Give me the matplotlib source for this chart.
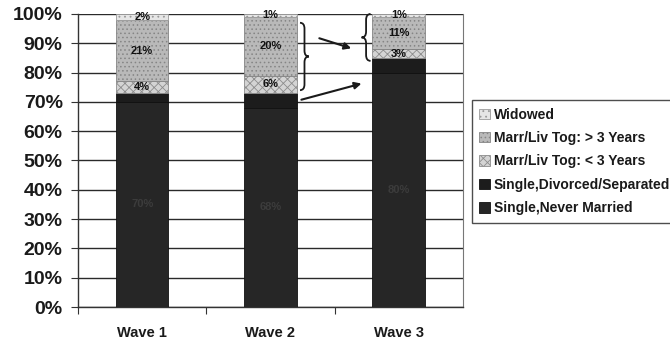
import numpy as np
import matplotlib.pyplot as plt
from matplotlib.path import Path
from matplotlib.patches import PathPatch

plt.rcParams['font.family'] = ['Liberation Sans', 'DejaVu Sans']
plt.rcParams['hatch.linewidth'] = 0.6

waves = ['Wave 1', 'Wave 2', 'Wave 3']
# stacked from the bottom up
series = ['Single,Never Married', 'Single,Divorced/Separated',
          'Marr/Liv Tog: < 3 Years', 'Marr/Liv Tog: > 3 Years', 'Widowed']
never_married = [70, 68, 80]
divorced = [3, 5, 5]
marr_lt3 = [4, 6, 3]
marr_gt3 = [21, 20, 11]
widowed = [2, 1, 1]

values = [never_married, divorced, marr_lt3, marr_gt3, widowed]
faces = ['#262626', '#1c1c1c', '#d4d4d4', '#b9b9b9', '#e6e6e6']
hatches = ['', '', 'xxxx', '....', '...']
edges = ['#111111', '#111111', '#8c8c8c', '#858585', '#9a9a9a']
label_colors = ['#3c3c3c', None, '#111111', '#111111', '#111111']

fig = plt.figure(figsize=(6.7, 3.48), dpi=100)
ax = fig.add_axes([0.1164, 0.1178, 0.5746, 0.842])

x = np.arange(len(waves))
bottom = np.zeros(len(waves))
for vals, lab, fc, h, ec, tc in zip(values, series, faces, hatches, edges, label_colors):
    vals = np.array(vals, dtype=float)
    ax.bar(x, vals, 0.41, bottom=bottom, color=fc, hatch=h, edgecolor=ec,
           linewidth=0.6, label=lab, zorder=3)
    if tc is not None:
        for xi, v, b in zip(x, vals, bottom):
            ax.text(xi, b + v / 2, '%d%%' % v, ha='center', va='center',
                    fontsize=8, fontweight='bold', color=tc, zorder=4)
    bottom += vals

ax.set_xlim(-0.5, 2.5)
ax.set_ylim(0, 100)
ax.set_yticks(np.arange(0, 101, 10))
ax.set_yticklabels(['%d%%' % v for v in range(0, 101, 10)],
                   fontsize=14, fontweight='bold', color='#1a1a1a')
ax.yaxis.grid(True, color='#2a2a2a', linewidth=1.0, zorder=0)
ax.set_axisbelow(True)
ax.tick_params(axis='y', length=5, width=0.8, color='#333333', pad=6)

ax.set_xticks(x)
ax.set_xticklabels(waves, fontsize=10.5, fontweight='bold', color='#1a1a1a')
ax.set_xticks([-0.5, 0.5, 1.5], minor=True)
ax.tick_params(axis='x', which='major', length=0, pad=14)
ax.tick_params(axis='x', which='minor', length=5, width=0.8, color='#333333')

for side in ['left', 'bottom']:
    ax.spines[side].set_color('#333333')
    ax.spines[side].set_linewidth(1.0)
ax.spines['top'].set_visible(False)
ax.spines['right'].set_color('#777777')
ax.spines['right'].set_linewidth(0.8)


def brace(ax, xb, y0, y1, w, direction=1):
    # curly brace along y, tip pointing in +x (direction=1) or -x (-1)
    ym = (y0 + y1) / 2
    d = w * direction
    verts = [(xb, y0), (xb + d, y0), (xb + d, y0 + 2), (xb + d, ym - 2),
             (xb + d, ym), (xb + 2 * d, ym), (xb + 2 * d, ym),
             (xb + d, ym), (xb + d, ym + 2), (xb + d, y1 - 2),
             (xb + d, y1), (xb, y1)]
    codes = [Path.MOVETO, Path.CURVE3, Path.CURVE3, Path.LINETO,
             Path.CURVE3, Path.CURVE3, Path.MOVETO,
             Path.CURVE3, Path.CURVE3, Path.LINETO,
             Path.CURVE3, Path.CURVE3]
    ax.add_patch(PathPatch(Path(verts, codes), fill=False, lw=1.3,
                           color='#1a1a1a', zorder=5, clip_on=False))


married_lo = np.array(never_married) + np.array(divorced)
married_hi = married_lo + np.array(marr_lt3) + np.array(marr_gt3)

# brace round the married share of wave 2, and round the upper part of wave 3
brace(ax, x[1] + 0.23, married_lo[1] + 1, married_hi[1] - 2, 0.035, 1)
brace(ax, x[2] - 0.22, married_lo[2] - 1, 100, 0.035, -1)

arrow = dict(arrowstyle='-|>', color='#1a1a1a', lw=1.5, mutation_scale=10)
ax.annotate('', xy=(x[2] - 0.35, married_hi[1] - 11),
            xytext=(x[1] + 0.36, married_hi[1] - 7), arrowprops=arrow, zorder=6)
ax.annotate('', xy=(x[2] - 0.27, married_lo[1] + 3.5),
            xytext=(x[1] + 0.22, married_lo[1] - 2.5), arrowprops=arrow, zorder=6)

handles, labels = ax.get_legend_handles_labels()
leg = fig.legend(handles[::-1], labels[::-1], loc='upper left',
                 bbox_to_anchor=(0.704, 0.713), frameon=True, fancybox=False,
                 prop={'size': 10, 'weight': 'bold'}, handlelength=0.75,
                 handleheight=0.75, handletextpad=0.3, labelspacing=0.68,
                 borderpad=0.55, borderaxespad=0)
leg.get_frame().set_edgecolor('#222222')
leg.get_frame().set_linewidth(1.0)
for t in leg.get_texts():
    t.set_color('#1a1a1a')

fig.savefig('out.png', dpi=100)
